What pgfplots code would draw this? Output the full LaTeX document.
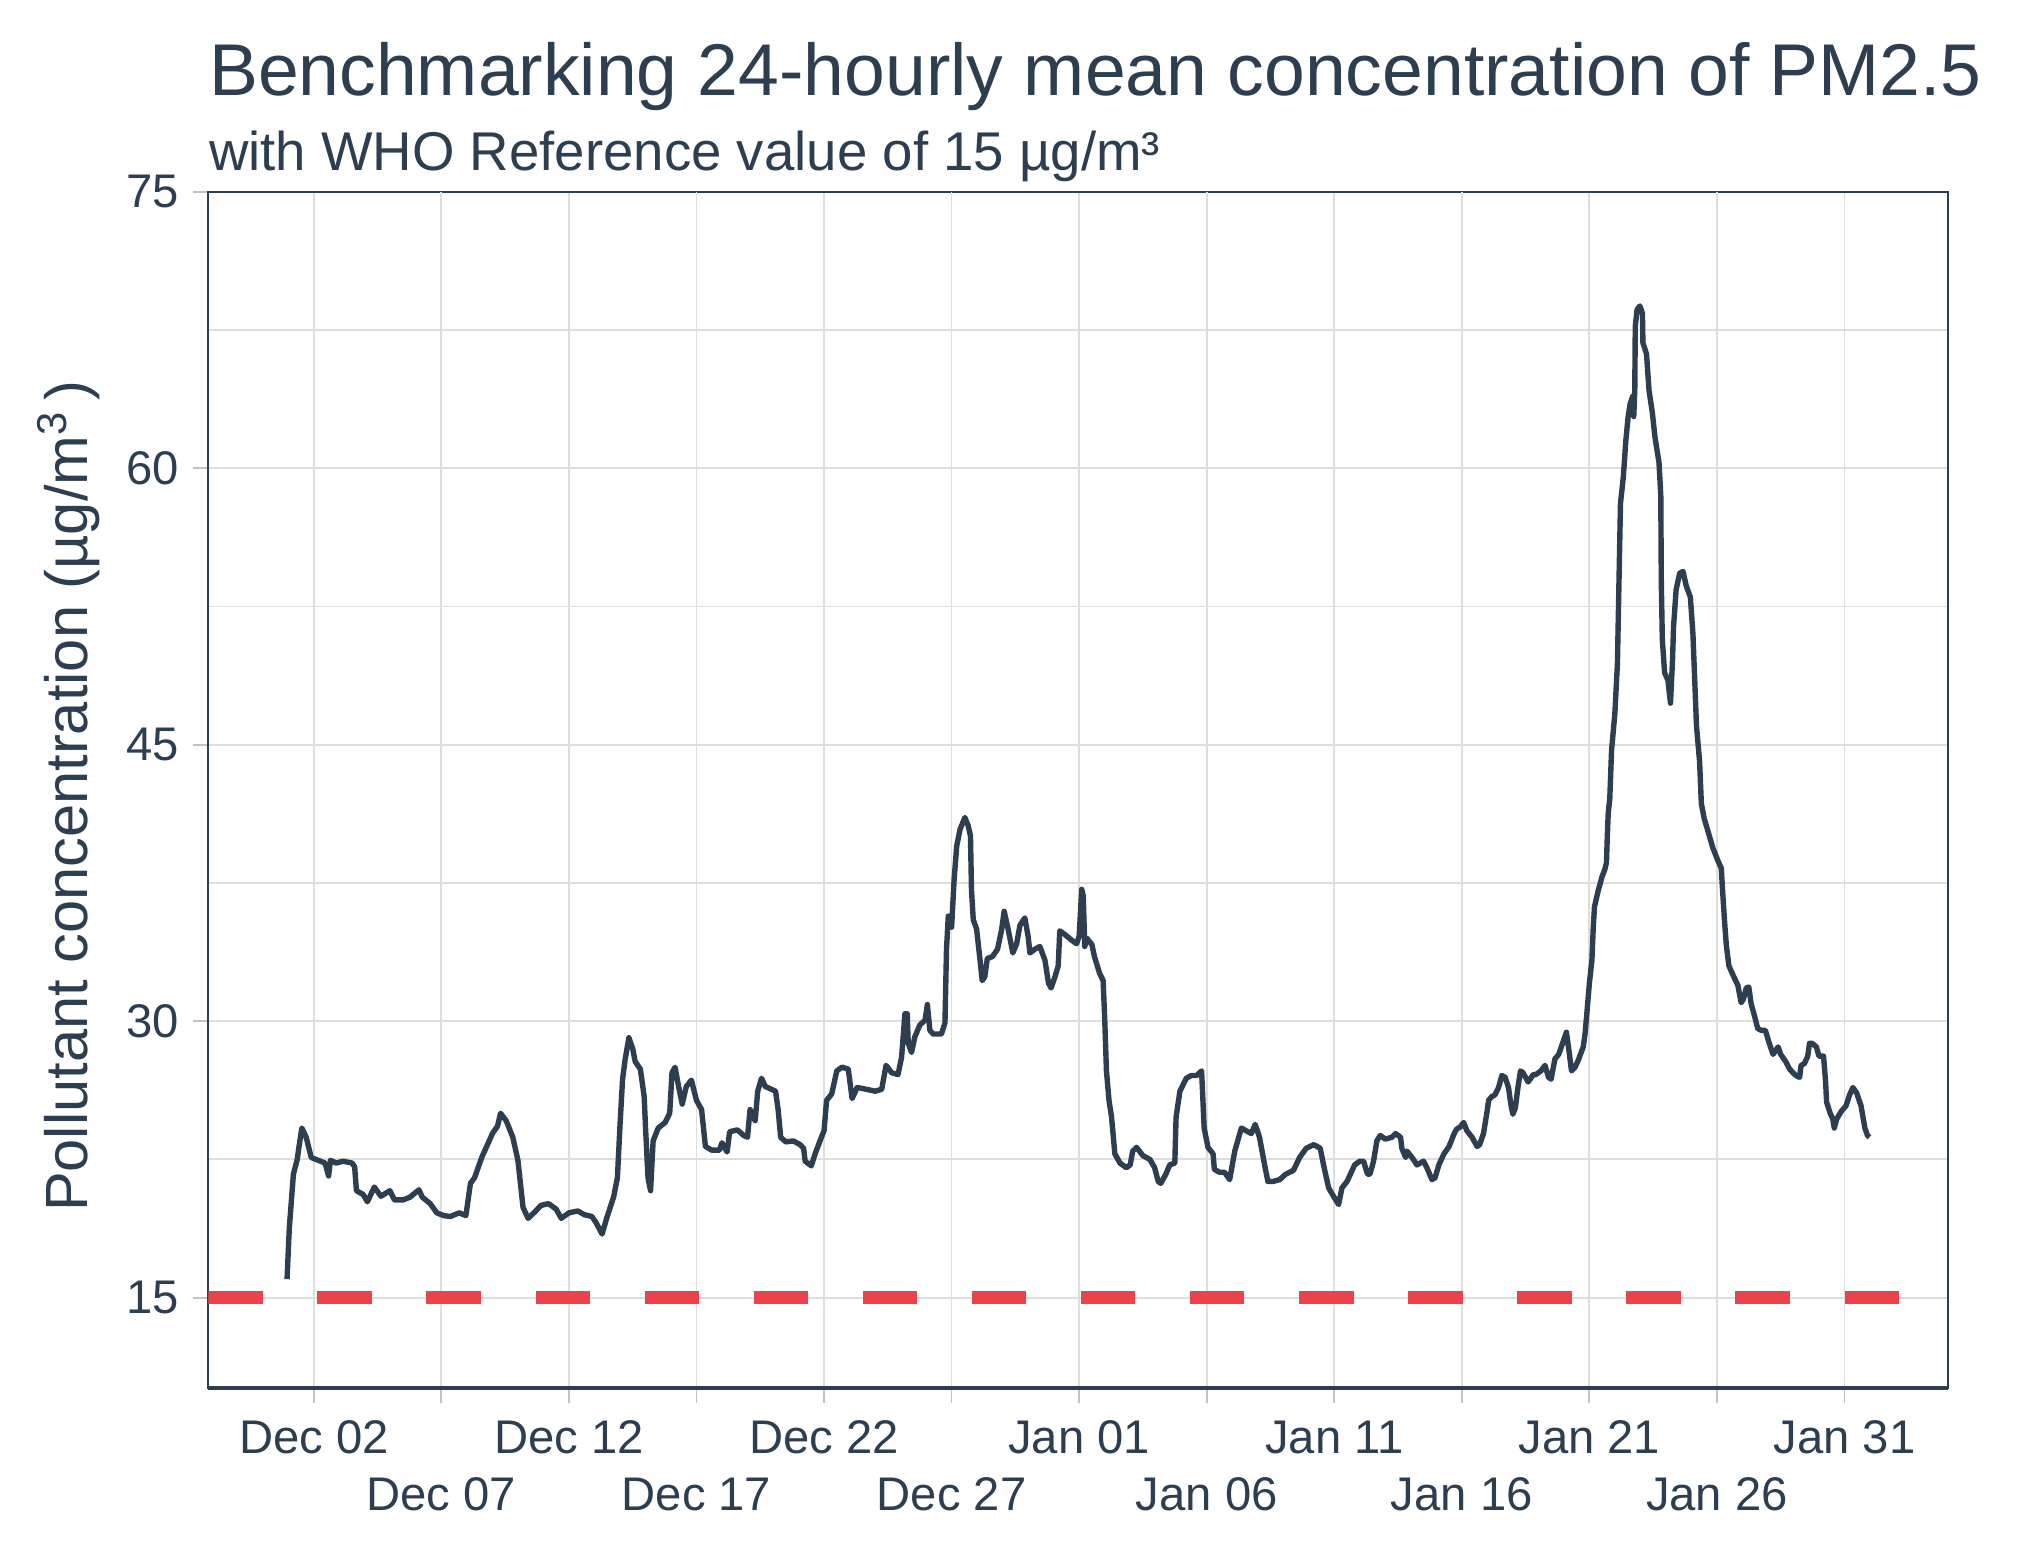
\documentclass[border=0pt]{standalone}
\usepackage{fontspec}
\setmainfont{Liberation Sans}
\usepackage{pgfplots}
\pgfplotsset{compat=1.18}

\definecolor{slate}{HTML}{2C3E50}
\definecolor{whored}{HTML}{EA434B}
\definecolor{gridgray}{HTML}{DEDEDE}

% 24-hour rolling mean PM2.5, x = day counted from Dec 1 (=1), Jan 1 = 32
\pgfplotstableread{
d v
0.95 16.0
1.04 18.8
1.2 21.7
1.35 22.5
1.42 23.2
1.53 24.2
1.7 23.7
1.9 22.6
2.17 22.45
2.44 22.3
2.58 21.6
2.65 22.45
2.88 22.3
3.14 22.4
3.5 22.3
3.6 22.1
3.67 20.8
3.93 20.6
4.1 20.2
4.37 21.0
4.63 20.5
4.98 20.8
5.16 20.3
5.5 20.3
5.77 20.45
6.12 20.85
6.25 20.45
6.56 20.1
6.82 19.6
7.09 19.45
7.35 19.4
7.7 19.6
7.96 19.45
8.14 21.2
8.3 21.5
8.58 22.6
8.84 23.4
9.0 23.9
9.2 24.3
9.32 25.0
9.54 24.6
9.8 23.7
10.0 22.45
10.2 19.9
10.4 19.3
10.7 19.7
10.9 20.0
11.2 20.1
11.5 19.8
11.7 19.3
12.0 19.6
12.35 19.7
12.6 19.5
12.9 19.4
13.05 19.1
13.3 18.45
13.5 19.4
13.75 20.45
13.9 21.5
14.0 24.3
14.1 26.8
14.2 27.9
14.35 29.1
14.5 28.5
14.6 27.8
14.8 27.4
14.95 25.9
15.0 24.3
15.1 21.5
15.2 20.8
15.3 23.5
15.5 24.2
15.77 24.5
15.95 25.0
16.04 27.2
16.16 27.5
16.3 26.45
16.44 25.5
16.6 26.45
16.8 26.8
17.0 25.7
17.2 25.2
17.35 23.2
17.6 23.0
17.9 23.0
18.0 23.4
18.2 22.9
18.3 24.0
18.6 24.1
18.85 23.8
19.0 23.7
19.1 25.2
19.3 24.6
19.4 26.2
19.55 26.9
19.7 26.45
20.1 26.2
20.2 25.2
20.3 23.7
20.5 23.45
20.8 23.5
21.06 23.3
21.2 23.1
21.26 22.4
21.5 22.15
21.65 22.8
21.84 23.5
22.0 24.05
22.1 25.7
22.3 26.05
22.5 27.3
22.7 27.5
22.95 27.4
23.1 25.8
23.3 26.4
23.67 26.3
24.0 26.2
24.26 26.3
24.43 27.6
24.65 27.2
24.9 27.1
25.04 28.05
25.17 30.4
25.26 30.4
25.3 28.8
25.43 28.3
25.56 29.15
25.76 29.8
25.96 30.05
26.05 30.9
26.15 29.5
26.28 29.3
26.6 29.3
26.74 29.9
26.8 33.9
26.87 35.7
27.0 35.1
27.1 37.7
27.2 39.5
27.33 40.4
27.52 41.05
27.65 40.6
27.74 40.05
27.78 37.1
27.85 35.5
27.98 35.0
28.1 33.5
28.2 32.2
28.3 32.4
28.4 33.4
28.6 33.5
28.8 33.9
28.96 34.95
29.06 35.96
29.2 35.1
29.4 33.7
29.55 34.2
29.68 35.2
29.87 35.6
30.0 34.6
30.07 33.7
30.26 33.9
30.46 34.05
30.66 33.3
30.8 32.05
30.9 31.8
31.05 32.4
31.18 33.0
31.24 34.9
31.44 34.7
31.7 34.4
31.9 34.2
32.0 34.6
32.1 37.15
32.16 36.8
32.22 34.05
32.3 34.5
32.5 34.15
32.6 33.5
32.8 32.6
32.94 32.2
33.0 30.2
33.07 27.3
33.17 25.7
33.27 24.8
33.4 22.8
33.6 22.3
33.85 22.05
34.0 22.2
34.1 22.95
34.25 23.15
34.5 22.7
34.77 22.5
34.96 22.05
35.1 21.3
35.2 21.2
35.4 21.7
35.55 22.2
35.75 22.3
35.8 24.8
35.95 26.2
36.2 26.9
36.4 27.05
36.6 27.05
36.8 27.3
36.9 24.2
37.05 23.15
37.25 22.8
37.3 21.96
37.5 21.8
37.7 21.8
37.9 21.4
38.1 22.95
38.36 24.2
38.55 24.05
38.75 23.9
38.9 24.4
39.07 23.7
39.27 22.2
39.4 21.3
39.6 21.3
39.86 21.4
40.1 21.7
40.4 21.9
40.64 22.6
40.9 23.1
41.2 23.3
41.45 23.1
41.58 22.2
41.78 20.95
41.97 20.5
42.17 20.05
42.3 20.95
42.5 21.3
42.7 21.9
42.8 22.2
43.0 22.4
43.15 22.4
43.3 21.7
43.4 21.7
43.54 22.4
43.67 23.5
43.8 23.8
44.0 23.6
44.26 23.7
44.4 23.9
44.6 23.7
44.65 23.1
44.8 22.6
44.85 22.95
45.05 22.6
45.24 22.2
45.37 22.3
45.5 22.4
45.63 22.05
45.83 21.4
45.95 21.5
46.1 22.2
46.3 22.8
46.5 23.2
46.7 23.9
46.8 24.15
46.93 24.25
47.07 24.5
47.2 24.05
47.4 23.7
47.6 23.2
47.7 23.3
47.85 23.9
47.98 25.0
48.05 25.7
48.17 25.9
48.3 26.0
48.44 26.4
48.57 27.05
48.7 26.95
48.83 26.4
48.92 25.5
49.0 24.95
49.1 25.3
49.2 26.4
49.3 27.3
49.4 27.2
49.6 26.7
49.8 27.1
49.9 27.1
50.1 27.3
50.26 27.6
50.4 26.95
50.5 26.85
50.65 27.95
50.8 28.2
50.95 28.8
51.1 29.4
51.2 28.4
51.3 27.3
51.44 27.5
51.57 27.9
51.76 28.6
51.83 29.3
51.9 30.4
52.0 32.05
52.1 33.3
52.15 35.0
52.2 36.2
52.35 37.1
52.5 37.85
52.6 38.2
52.67 38.6
52.7 39.9
52.74 41.3
52.8 42.05
52.87 44.7
53.0 46.7
53.1 49.4
53.17 54.5
53.22 58.1
53.33 59.5
53.43 61.5
53.52 62.8
53.6 63.5
53.7 63.9
53.74 62.8
53.78 64.2
53.8 67.7
53.87 68.6
53.98 68.8
54.08 68.4
54.1 66.8
54.24 66.2
54.34 64.2
54.47 63.0
54.57 61.7
54.73 60.3
54.8 58.5
54.82 53.8
54.86 50.7
54.95 48.9
55.08 48.5
55.18 47.25
55.26 49.6
55.3 51.4
55.4 53.4
55.54 54.3
55.67 54.4
55.8 53.6
55.96 53.0
56.06 51.0
56.13 48.5
56.2 46.0
56.32 44.1
56.39 41.8
56.5 41.0
56.65 40.3
56.84 39.4
57.04 38.7
57.17 38.3
57.23 36.9
57.3 35.4
57.37 34.1
57.47 33.0
57.63 32.5
57.82 31.95
57.95 31.0
58.04 31.2
58.15 31.8
58.25 31.85
58.34 30.95
58.47 30.3
58.6 29.6
58.74 29.5
58.9 29.5
59.04 28.85
59.2 28.2
59.4 28.6
59.5 28.2
59.7 27.8
59.85 27.4
59.98 27.2
60.1 27.05
60.24 26.95
60.3 27.6
60.43 27.7
60.56 28.1
60.63 28.8
60.73 28.8
60.9 28.6
61.0 28.1
61.18 28.1
61.26 26.7
61.3 25.6
61.44 25.0
61.54 24.7
61.6 24.2
61.7 24.7
61.87 25.1
62.06 25.4
62.2 26.0
62.33 26.4
62.48 26.1
62.65 25.4
62.8 24.2
62.9 23.8
62.98 23.7
}\pmdata

\begin{document}
\begin{tikzpicture}
\path[use as bounding box] (-52.08bp,-41.43bp) rectangle (454.93bp,347.08bp);
\begin{axis}[
    at={(0,0)}, anchor=south west,
    scale only axis, width=435bp, height=299.15bp,
    xmin=-2.136, xmax=66.07, ymin=10.08, ymax=75,
    axis line style={slate, line width=0.5bp},
    xtick={2,12,22,32,42,52,62},
    xticklabels={Dec 02,Dec 12,Dec 22,Jan 01,Jan 11,Jan 21,Jan 31},
    extra x ticks={7,17,27,37,47,57},
    extra x tick labels={Dec 07,Dec 17,Dec 27,Jan 06,Jan 16,Jan 26},
    extra x tick style={grid=major, xticklabel style={yshift=-14.25bp}},
    ytick={15,30,45,60,75},
    minor ytick={22.5,37.5,52.5,67.5},
    xmajorgrids, ymajorgrids, yminorgrids,
    grid style={gridgray, line width=0.45bp},
    minor grid style={gridgray, line width=0.45bp},
    tick align=outside, major tick length=3.75bp, minor tick length=0pt,
    tick style={gridgray!70!gray, line width=0.45bp},
    xtick pos=bottom, ytick pos=left,
    tick label style={font=\fontsize{11.8bp}{14bp}\selectfont, text=slate},
    /pgf/number format/assume math mode=true,
    xticklabel style={anchor=base, inner sep=0pt, yshift=-12.5bp},
    yticklabel style={anchor=east, inner sep=0pt, xshift=-3.5bp},
]
\addplot[whored, line width=3.3bp, dash pattern=on 13.6bp off 13.67bp] coordinates {(-2.136,15) (66.07,15)};
\addplot[slate, line width=1.35bp, line join=round] table[x=d, y=v] {\pmdata};
\end{axis}
\draw[slate, line width=1bp] (0,0) -- (435bp,0);
\node[anchor=base west, inner sep=0pt, text=slate, font=\fontsize{18.33bp}{22bp}\selectfont]
    at (0,323.3bp) {Benchmarking 24-hourly mean concentration of PM2.5};
\node[anchor=base west, inner sep=0pt, text=slate, font=\fontsize{13.65bp}{16bp}\selectfont]
    at (0,304.4bp) {with WHO Reference value of 15 µg/m³};
\node[rotate=90, anchor=base, inner sep=0pt, text=slate, font=\fontsize{14.9bp}{18bp}\selectfont]
    at (-30.25bp,148bp) {Pollutant concentration (µg/m\textsuperscript{3}\,)};
\end{tikzpicture}
\end{document}
